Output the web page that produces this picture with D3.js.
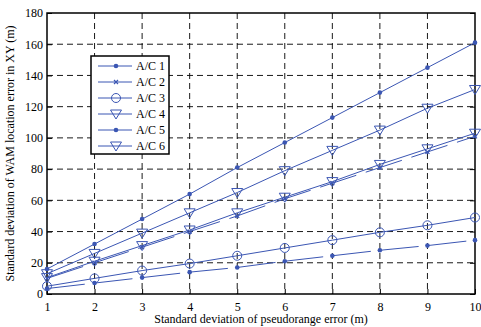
<!DOCTYPE html>
<html>
<head>
<meta charset="utf-8">
<script src="https://cdn.jsdelivr.net/npm/d3@7"></script>
<style>
  body { margin: 0; background: #fff; }
  text { font-family: "Liberation Serif", "DejaVu Serif", serif; }
</style>
</head>
<body>
<div id="chart"></div>
<script>
// pseudorange error std (m)
const xs = [1, 2, 3, 4, 5, 6, 7, 8, 9, 10]

// WAM location error std in XY (m)
const ac1 = [16, 32, 48, 64, 81, 97, 113, 129, 145, 161]
const ac2 = [10, 20, 30, 40, 50, 61, 71, 81, 91, 101]
const ac3 = [5, 10, 15, 19.5, 24.5, 29.5, 34.5, 39.5, 44, 49]
const ac4 = [10.5, 21, 31, 41, 52, 62, 72, 83, 93, 103]
const ac5 = [3.5, 7, 10.5, 14, 17, 21, 24.5, 28, 31, 34.5]
const ac6 = [13, 26, 39, 52, 65, 79, 92, 105, 119, 131]

const yTicks = [0, 20, 40, 60, 80, 100, 120, 140, 160, 180]

const series = [
  { name: 'A/C 1', values: ac1, marker: 'dot', dash: null },
  { name: 'A/C 2', values: ac2, marker: 'x', dash: '38,10' },
  { name: 'A/C 3', values: ac3, marker: 'circle', dash: null },
  { name: 'A/C 4', values: ac4, marker: 'tri', dash: null },
  { name: 'A/C 5', values: ac5, marker: 'dot', dash: '38,10' },
  { name: 'A/C 6', values: ac6, marker: 'tri', dash: null }
]

const W = 481, H = 327
const margin = { top: 13, right: 6, bottom: 33, left: 47 }
const width = W - margin.left - margin.right
const height = H - margin.top - margin.bottom
const blue = '#3b56b3'

const svg = d3.select('#chart').append('svg')
  .attr('width', W).attr('height', H)

const g = svg.append('g').attr('transform', `translate(${margin.left},${margin.top})`)

const x = d3.scaleLinear().domain([1, 10]).range([0, width])
const y = d3.scaleLinear().domain([0, 180]).range([height, 0])

// dashed grid
g.append('g').selectAll('line').data(xs.slice(1, -1)).join('line')
  .attr('x1', d => x(d)).attr('x2', d => x(d))
  .attr('y1', 0).attr('y2', height)
  .attr('stroke', '#000').attr('stroke-dasharray', '6,4').attr('stroke-width', 0.9)
g.append('g').selectAll('line').data(yTicks.slice(1, -1)).join('line')
  .attr('y1', d => y(d)).attr('y2', d => y(d))
  .attr('x1', 0).attr('x2', width)
  .attr('stroke', '#000').attr('stroke-dasharray', '6,4').attr('stroke-width', 0.9)

// axes, ticks pointing inwards
g.append('g')
  .attr('transform', `translate(0,${height})`)
  .call(d3.axisBottom(x).tickValues(xs).tickSizeInner(-5).tickSizeOuter(0).tickPadding(8))
  .call(a => a.select('.domain').remove())
  .call(a => a.selectAll('.tick text').attr('font-size', 12).attr('fill', '#000'))
g.append('g')
  .call(d3.axisLeft(y).tickValues(yTicks).tickSizeInner(-5).tickSizeOuter(0).tickPadding(4))
  .call(a => a.select('.domain').remove())
  .call(a => a.selectAll('.tick text').attr('font-size', 12).attr('fill', '#000'))
// right side ticks
g.append('g')
  .attr('transform', `translate(${width},0)`)
  .call(d3.axisRight(y).tickValues(yTicks).tickSizeInner(-5).tickSizeOuter(0).tickFormat(''))
  .call(a => a.select('.domain').remove())

g.append('rect')
  .attr('width', width).attr('height', height)
  .attr('fill', 'none').attr('stroke', '#000').attr('stroke-width', 1.5)

function drawMarker(sel, type) {
  if (type === 'dot') {
    sel.append('circle').attr('r', 2.3).attr('fill', blue)
  } else if (type === 'x') {
    sel.append('path').attr('d', 'M-2,-2L2,2M-2,2L2,-2')
      .attr('stroke', blue).attr('stroke-width', 1.2)
  } else if (type === 'circle') {
    sel.append('circle').attr('r', 4.5).attr('fill', 'none')
      .attr('stroke', blue).attr('stroke-width', 1)
  } else if (type === 'tri') {
    sel.append('path').attr('d', 'M-5.5,-4L5.5,-4L0,5Z').attr('fill', 'none')
      .attr('stroke', blue).attr('stroke-width', 1)
  }
}

const line = d3.line().x((d, i) => x(xs[i])).y(d => y(d))

series.forEach(s => {
  g.append('path')
    .datum(s.values)
    .attr('fill', 'none')
    .attr('stroke', blue)
    .attr('stroke-width', 1)
    .attr('stroke-dasharray', s.dash)
    .attr('d', line)
  s.values.forEach((v, i) => {
    const m = g.append('g').attr('transform', `translate(${x(xs[i])},${y(v)})`)
    drawMarker(m, s.marker)
  })
})

// legend
const leg = svg.append('g').attr('transform', 'translate(91,56)')
leg.append('rect')
  .attr('width', 78).attr('height', 98)
  .attr('fill', '#fff').attr('stroke', '#000').attr('stroke-width', 1.5)
series.forEach((s, i) => {
  const row = leg.append('g').attr('transform', `translate(0,${10 + i * 16})`)
  row.append('line').attr('x1', 7).attr('x2', 41)
    .attr('stroke', blue).attr('stroke-width', 1)
  drawMarker(row.append('g').attr('transform', 'translate(25,0)'), s.marker)
  row.append('text').attr('x', 45).attr('y', 4)
    .attr('font-size', 12).attr('fill', '#000').text(s.name)
})

// axis titles
svg.append('text')
  .attr('x', margin.left + width / 2).attr('y', H - 4)
  .attr('text-anchor', 'middle').attr('font-size', 12)
  .text('Standard deviation of pseudorange error (m)')
svg.append('text')
  .attr('transform', `translate(14,${margin.top + height / 2}) rotate(-90)`)
  .attr('text-anchor', 'middle').attr('font-size', 12)
  .text('Standard deviation of WAM location error in XY (m)')
</script>
</body>
</html>
